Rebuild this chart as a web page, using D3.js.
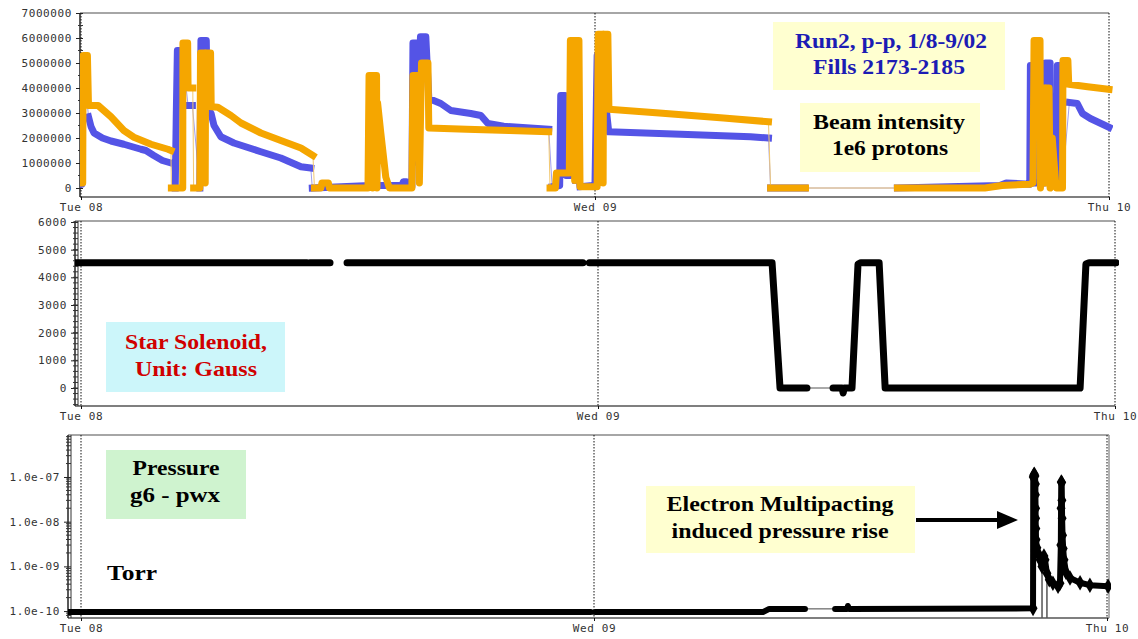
<!DOCTYPE html>
<html lang="en">
<head>
<meta charset="utf-8">
<script src="https://d3js.org/d3.v7.min.js"></script>
<style>
    body { margin: 0; background: #fff; }
    svg { display: block; }
    .tick text, .lbl {
        font-family: 'DejaVu Sans Mono', monospace;
        font-size: 11px;
        fill: #333;
        letter-spacing: 0.6px;
    }
    .note {
        font-family: 'Liberation Serif', 'Times New Roman', serif;
        font-weight: bold;
        font-size: 21px;
    }
</style>
</head>
<body>
<script>
var width = 1138, height = 639;

// hours counted from Tue 08 Jan 2002 00:00
var dayTicks = [0, 24, 48];

// beam intensity, [hour, protons]; a null value keeps only the thin joining line
var blueBeam = [
    [0.0, 0.15e6], [0.04, 0.15e6], [0.05, 5.2e6], [0.1, 5.2e6], [0.12, null],
    [0.35, 2.85e6], [0.47, 2.45e6], [0.61, 2.2e6], [1.0, 2.0e6], [1.4, 1.88e6], [2.0, 1.75e6],
    [2.8, 1.55e6], [3.03, 1.5e6], [3.4, 1.3e6], [3.8, 1.1e6], [4.2, 1.0e6], [4.21, null],
    [4.4, 0], [4.45, 3.0e6], [4.5, 5.5e6], [4.72, 5.5e6], [4.75, null],
    [5.0, 3.3e6], [5.2, 3.3e6], [5.22, null],
    [5.55, 0], [5.6, 5.9e6], [5.85, 5.9e6], [5.9, 3.0e6], [6.07, 3.0e6], [6.21, 2.5e6], [6.53, 2.05e6],
    [7.14, 1.8e6], [8.4, 1.45e6], [9.33, 1.2e6], [10.27, 0.85e6], [10.73, 0.8e6], [10.75, null],
    [10.8, 0], [13.5, 0.1e6], [15.0, 0.1e6], [15.05, 0.25e6], [15.2, 0.25e6], [15.3, 0.05e6], [15.45, 0.05e6],
    [15.5, 5.8e6], [15.7, 5.8e6], [15.75, 1.0e6], [15.85, 6.05e6], [16.1, 6.05e6], [16.24, 3.58e6],
    [16.8, 3.38e6], [17.27, 3.1e6], [18.2, 2.98e6], [18.67, 2.9e6], [19.0, 2.58e6], [19.74, 2.47e6],
    [21.84, 2.35e6], [21.86, null],
    [22.0, 0.05e6], [22.35, 0.1e6], [22.4, 3.7e6], [22.6, 3.7e6], [22.65, 0.5e6], [22.85, 0.5e6],
    [22.87, 5.2e6], [23.0, 5.2e6], [23.1, 0.3e6], [23.2, null],
    [23.3, 0.05e6], [23.9, 0.1e6], [24.0, 0.2e6], [24.1, 5.3e6], [24.25, 5.3e6], [24.64, 2.25e6],
    [28.0, 2.15e6], [31.26, 2.05e6], [32.1, 2.0e6], [32.12, null],
    [32.2, 0], [33.8, 0], [33.81, null], [38.12, 0], [42.9, 0.1e6], [43.2, 0.2e6],
    [44.3, 0.15e6], [44.33, 4.9e6], [44.45, 4.9e6], [44.47, 0.2e6], [45.0, 0.2e6], [45.03, 5.0e6],
    [45.25, 5.0e6], [45.26, 0.3e6], [45.55, 0.3e6], [45.59, 4.9e6], [45.8, 4.9e6], [45.82, 0.2e6], [45.9, null],
    [46.15, 3.42e6], [46.52, 3.38e6], [46.76, 2.98e6], [47.13, 2.78e6], [48.0, 2.43e6]
];
var yellowBeam = [
    [0.0, 0.2e6], [0.08, 0.2e6], [0.1, 5.3e6], [0.3, 5.3e6], [0.35, 3.3e6], [0.8, 3.3e6], [1.4, 2.85e6],
    [2.0, 2.3e6], [2.47, 2.03e6], [3.27, 1.75e6], [4.06, 1.55e6], [4.2, 1.5e6], [4.21, null],
    [4.22, 0], [4.75, 0], [4.76, 5.8e6], [4.98, 5.8e6], [5.0, 4.0e6], [5.22, 4.0e6], [5.23, null],
    [5.26, 0], [5.55, 0], [5.58, 5.4e6], [5.8, 5.4e6], [5.8, 0.2e6], [5.82, 5.4e6], [6.05, 5.4e6],
    [6.08, 3.25e6], [6.39, 3.23e6], [7.0, 2.9e6],
    [7.47, 2.6e6], [8.4, 2.2e6], [9.33, 1.9e6], [10.27, 1.6e6], [10.83, 1.3e6], [10.84, null],
    [10.9, 0], [11.2, 0], [11.25, 0.2e6], [11.55, 0.2e6], [11.6, 0], [13.4, 0], [13.45, 4.5e6],
    [13.62, 4.5e6], [13.62, 0], [13.64, 4.5e6], [13.8, 4.5e6], [13.82, 0], [13.85, 3.4e6],
    [14.0, 2.2e6], [14.23, 0.44e6], [14.4, 0], [15.45, 0], [15.5, 4.5e6], [15.75, 4.5e6],
    [15.8, 0.2e6], [15.9, 5.0e6], [16.2, 5.0e6], [16.24, 2.4e6], [18.0, 2.35e6], [20.0, 2.3e6],
    [21.84, 2.25e6], [21.85, null],
    [21.9, 0], [22.15, 0], [22.2, 0.6e6], [22.8, 0.6e6], [22.85, 5.9e6], [23.05, 5.9e6], [23.05, 0.3e6],
    [23.07, 5.9e6], [23.25, 5.9e6], [23.3, 0.05e6],
    [24.1, 0.05e6], [24.15, 6.15e6], [24.38, 6.15e6], [24.38, 0.2e6], [24.4, 6.15e6], [24.6, 6.15e6],
    [24.65, 3.15e6], [27.0, 3.0e6], [30.0, 2.8e6],
    [32.1, 2.65e6], [32.11, null],
    [32.2, 0], [33.83, 0], [33.84, null], [38.12, 0], [42.2, 0], [43.0, 0.1e6], [44.3, 0.15e6],
    [44.45, 0.2e6], [44.5, 5.9e6], [44.78, 5.9e6], [44.8, 0], [44.85, 4.0e6], [45.02, 4.0e6], [45.02, 0.2e6],
    [45.04, 4.0e6], [45.2, 4.0e6], [45.25, 0],
    [45.35, 2.0e6], [45.5, 0.3e6], [45.55, 0], [45.83, 0], [45.85, 5.1e6], [46.08, 5.1e6],
    [46.12, 4.15e6], [47.0, 4.05e6], [48.0, 3.95e6]
];
var beamTicks = [0, 1000000, 2000000, 3000000, 4000000, 5000000, 6000000, 7000000];

// STAR solenoid field, [hour, gauss]; [null, null] is a gap with no line at all
var solenoid = [
    [-0.3, 4530], [10.49, 4530], [10.52, null], [10.63, 4530], [11.56, 4530], [null, null],
    [12.35, 4530], [23.3, 4530], [23.33, null], [23.6, 4530], [32.08, 4530], [32.45, 0], [33.7, 0],
    [33.72, null], [34.91, 0], [35.33, 0], [35.38, -180], [35.43, 0], [35.79, 0], [36.07, 4480],
    [36.2, 4530], [37.05, 4530], [37.33, 0], [46.38, 0], [46.65, 4480], [46.8, 4530], [48.05, 4530]
];
var solenoidTicks = [0, 1000, 2000, 3000, 4000, 5000, 6000];

// pressure g6-pwx, [hour, torr]
var pressure = [
    [-0.6, 0.95e-10], [23.85, 0.95e-10], [23.88, null], [24.05, 0.95e-10], [31.9, 0.95e-10],
    [32.2, 1.12e-10], [33.87, 1.12e-10], [33.9, null], [35.28, 1.12e-10], [35.85, 1.12e-10],
    [35.88, 1.3e-10], [35.92, 1.12e-10], [44.54, 1.15e-10], [44.55, 1.0e-7], [44.57, 1.1e-7],
    [44.6, 1.15e-7], [44.63, 1.05e-7], [44.65, 7e-8], [44.65, 4e-8], [44.66, 2e-8], [44.66, 1.2e-8],
    [44.67, 7e-9], [44.68, 4e-9], [44.72, 2.6e-9], [44.77, 2e-9], [44.87, 1.4e-9], [44.96, 1.0e-9],
    [45.03, 1.5e-9], [45.05, 1.7e-9], [45.1, 1.4e-9], [45.19, 7e-10], [45.3, 5e-10], [45.47, 4.2e-10],
    [45.71, 3.6e-10], [45.8, 4.2e-10], [45.84, 3e-9], [45.85, 2e-8], [45.86, 7.7e-8], [45.88, 7.5e-8],
    [45.89, 3e-8], [45.9, 1.2e-8], [45.92, 5e-9], [45.95, 2.5e-9], [45.99, 1.4e-9], [46.08, 7.4e-10],
    [46.27, 5.5e-10], [46.74, 4.3e-10], [47.2, 3.8e-10], [48.05, 3.6e-10]
];
var pressureDrops = [[44.96, 1.0e-9], [45.19, 7e-10]];
var pressureTicks = [1e-10, 1e-9, 1e-8, 1e-7];

var t0 = new Date(2002, 0, 8);
function toDate(h) { return new Date(t0.getTime() + h * 3600e3); }

var svg = d3.select('body').append('svg').attr('width', width).attr('height', height);
svg.append('rect').attr('width', width).attr('height', height).attr('fill', '#fff');

function panel(p) {
    var g = svg.append('g');
    var x = d3.scaleTime().domain([toDate(0), toDate(48)]).range([p.left, p.right]);
    var y = p.y;

    // frame
    g.append('line').attr('x1', p.frame).attr('x2', p.right + (p.extra || 0))
        .attr('y1', p.top).attr('y2', p.top).attr('stroke', '#888').attr('stroke-width', 1.5);
    g.append('line').attr('x1', p.frame).attr('x2', p.right + (p.extra || 0))
        .attr('y1', p.bottom).attr('y2', p.bottom).attr('stroke', '#555').attr('stroke-width', 1.5);
    if (p.extra) {
        g.append('line').attr('x1', p.right + p.extra).attr('x2', p.right + p.extra)
            .attr('y1', p.top).attr('y2', p.bottom).attr('stroke', '#999').attr('stroke-width', 1.5);
    }

    // day lines
    g.selectAll('line.day').data(dayTicks).join('line').attr('class', 'day')
        .attr('x1', function(d) { return x(toDate(d)); })
        .attr('x2', function(d) { return x(toDate(d)); })
        .attr('y1', p.top).attr('y2', p.bottom)
        .attr('stroke', '#111').attr('stroke-width', 1).attr('stroke-dasharray', '1.5,1.5');

    // x axis
    var xa = g.append('g').attr('transform', 'translate(0,' + p.bottom + ')')
        .call(d3.axisBottom(x).tickValues(dayTicks.map(toDate))
            .tickFormat(d3.timeFormat('%a %d')).tickSize(3).tickSizeOuter(0).tickPadding(3));
    xa.select('.domain').remove();
    xa.selectAll('.tick line').attr('stroke', '#111');

    // y axis
    var ya = g.append('g').attr('transform', 'translate(' + p.frame + ',0)')
        .call(d3.axisLeft(y).tickValues(p.ticks).tickFormat(p.fmt).tickSize(5).tickSizeOuter(0).tickPadding(3));
    ya.select('.domain').attr('d', 'M0,' + p.top + 'V' + p.bottom).attr('stroke', '#222').attr('stroke-width', 1.5);
    ya.selectAll('.tick line').attr('stroke', '#222').attr('x2', 3).attr('x1', -4);
    if (p.minor) {
        g.selectAll('line.minor').data(p.minor).join('line').attr('class', 'minor')
            .attr('x1', p.frame - 2).attr('x2', p.frame + 3)
            .attr('y1', function(d) { return y(d); }).attr('y2', function(d) { return y(d); })
            .attr('stroke', '#333').attr('stroke-width', 1);
    }
    if (p.double) {
        g.append('line').attr('x1', p.frame + 3).attr('x2', p.frame + 3)
            .attr('y1', p.top).attr('y2', p.bottom).attr('stroke', '#333').attr('stroke-width', 1);
    }

    var clipId = 'clip' + p.top;
    svg.append('clipPath').attr('id', clipId).append('rect')
        .attr('x', p.frame).attr('y', p.top).attr('width', p.right + 4 - p.frame).attr('height', p.bottom - p.top);
    var plot = g.append('g').attr('clip-path', 'url(#' + clipId + ')');
    return { g: g, plot: plot, x: x, y: y };
}

function series(pl, data, color, thinColor, w, cap) {
    var x = pl.x, y = pl.y;
    var thin = d3.line().defined(function(d) { return d[0] !== null; })
        .x(function(d) { return x(toDate(d[0])); }).y(function(d) { return y(d[1]); });
    pl.plot.append('path')
        .attr('d', thin(data.filter(function(d) { return d[0] === null || d[1] !== null; })))
        .attr('fill', 'none').attr('stroke', thinColor).attr('stroke-width', 1);
    var thick = d3.line().defined(function(d) { return d[0] !== null && d[1] !== null; })
        .x(function(d) { return x(toDate(d[0])); }).y(function(d) { return y(d[1]); });
    pl.plot.append('path').attr('d', thick(data))
        .attr('fill', 'none').attr('stroke', color).attr('stroke-width', w)
        .attr('stroke-linejoin', 'round').attr('stroke-linecap', cap);
}

// beam intensity panel
var beamPanel = panel({
    left: 81, frame: 80, right: 1109, top: 13, bottom: 197,
    y: d3.scaleLinear().domain([-360000, 7000000]).range([197, 13]),
    ticks: beamTicks, fmt: d3.format('d'),
    minor: d3.range(500000, 7000000, 1000000)
});
series(beamPanel, blueBeam, '#5454e6', '#a0a0ee', 7, 'square');
series(beamPanel, yellowBeam, '#f5a600', '#f2c870', 7, 'square');

// solenoid panel
var solPanel = panel({
    left: 81, frame: 75, right: 1115, top: 221, bottom: 406, double: true,
    y: d3.scaleLinear().domain([-650, 6000]).range([406, 222]),
    ticks: solenoidTicks, fmt: d3.format('d'),
    minor: d3.range(-600, 6001, 200)
});
series(solPanel, solenoid, '#000', '#555', 7, 'round');

// pressure panel
var minorLog = [];
[1e-11, 1e-10, 1e-9, 1e-8, 1e-7].forEach(function(dec) {
    for (var k = 2; k <= 9; k++) minorLog.push(dec * k);
});
var presPanel = panel({
    left: 81, frame: 68, right: 1107, top: 435, bottom: 618, double: true, extra: 2,
    y: d3.scaleLog().domain([7e-11, 8.7e-7]).range([618, 435]),
    ticks: pressureTicks,
    fmt: function(v) { return v.toExponential(1).replace(/e-(\d)$/, 'e-0$1'); },
    minor: minorLog.filter(function(v) { return v > 7e-11 && v < 8.7e-7; })
});
presPanel.plot.selectAll('line.drop').data(pressureDrops).join('line').attr('class', 'drop')
    .attr('x1', function(d) { return presPanel.x(toDate(d[0])); })
    .attr('x2', function(d) { return presPanel.x(toDate(d[0])); })
    .attr('y1', function(d) { return presPanel.y(d[1]); }).attr('y2', 618)
    .attr('stroke', '#555').attr('stroke-width', 1.5);
series(presPanel, pressure, '#000', '#444', 6, 'round');
// diamond markers where the samples are sparse (pressure bursts)
presPanel.plot.selectAll('path.mk')
    .data(pressure.filter(function(d) { return d[0] > 44.5 && d[1] !== null; }))
    .join('path').attr('class', 'mk')
    .attr('d', d3.symbol().type(d3.symbolDiamond).size(70))
    .attr('transform', function(d) {
        return 'translate(' + presPanel.x(toDate(d[0])) + ',' + presPanel.y(d[1]) + ')';
    })
    .attr('fill', '#000');

// annotation boxes
var notes = [
    { box: [773, 22, 232, 68], fill: '#ffffd0', color: '#1c1cb4',
      lines: [['Run2, p-p, 1/8-9/02', 891, 48, 192], ['Fills 2173-2185', 889, 74, 152]] },
    { box: [800, 103, 180, 69], fill: '#ffffd0', color: '#000',
      lines: [['Beam intensity', 889, 129, 152], ['1e6 protons', 890, 155, 116]] },
    { box: [106, 322, 179, 70], fill: '#ccf6fa', color: '#d00000',
      lines: [['Star Solenoid,', 196, 349, 142], ['Unit: Gauss', 196, 376, 122]] },
    { box: [106, 450, 140, 69], fill: '#cff3cf', color: '#000',
      lines: [['Pressure', 176, 475, 87], ['g6 - pwx', 175, 502, 90]] },
    { box: [646, 486, 269, 67], fill: '#ffffd0', color: '#000',
      lines: [['Electron Multipacting', 780, 511, 227], ['induced pressure rise', 780, 538, 217]] },
    { box: null, color: '#000', lines: [['Torr', 132, 580, 50]] }
];
notes.forEach(function(n) {
    if (n.box) {
        svg.append('rect').attr('x', n.box[0]).attr('y', n.box[1])
            .attr('width', n.box[2]).attr('height', n.box[3]).attr('fill', n.fill);
    }
    n.lines.forEach(function(l) {
        svg.append('text').attr('class', 'note').attr('x', l[1]).attr('y', l[2])
            .attr('text-anchor', 'middle').attr('fill', n.color)
            .attr('textLength', l[3]).attr('lengthAdjust', 'spacingAndGlyphs')
            .text(l[0]);
    });
});

// arrow to the pressure spike
svg.append('line').attr('x1', 916).attr('x2', 1000).attr('y1', 520).attr('y2', 520)
    .attr('stroke', '#000').attr('stroke-width', 4);
svg.append('path').attr('d', 'M997,511 L1018,520 L997,529 Z').attr('fill', '#000');
</script>
</body>
</html>
